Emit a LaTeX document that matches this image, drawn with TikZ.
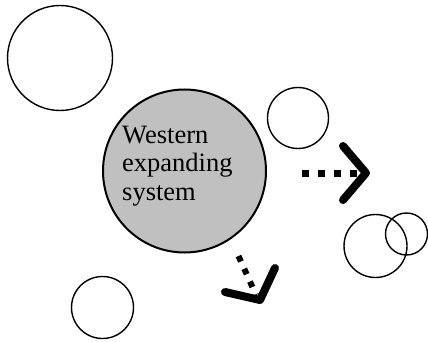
\documentclass[tikz,border=0pt]{standalone}
\usepackage{fontspec}
\setmainfont{Liberation Serif}
\begin{document}
\begin{tikzpicture}[
    x=1pt, y=-1pt,
    ring/.style={circle, draw=black, line width=1.4pt, inner sep=0pt},
    chevron/.style={line width=8pt, line cap=round, line join=round},
    dots/.style={line width=7pt, dash pattern=on 7pt off 9pt}
]
    \useasboundingbox (0,0) rectangle (428,342);

    % Circles
    \node[ring, minimum size=105pt] (topleft) at (60,58) {};
    \node[ring, minimum size=61pt] (topright) at (298,118) {};
    \node[ring, minimum size=63pt] (rightbig) at (375.5,246) {};
    \node[ring, minimum size=42pt] (rightsmall) at (406.5,234) {};
    \node[ring, minimum size=62pt] (bottomleft) at (102.5,307.5) {};

    % Main system
    \node[ring, fill={rgb,255:red,192;green,192;blue,192}, line width=2pt, minimum size=163pt] (west) at (184.5,171) {};
    \node[anchor=base west, align=left, inner sep=0pt, font=\fontsize{26.5}{28.5}\selectfont] (westtext) at (122,200) {Western\\expanding\\system};

    % Expansion to the east
    \coordinate (eastfrom) at (302,173);
    \coordinate (eastto) at (358,173);
    \draw[dots] (eastfrom) -- (eastto);
    \draw[chevron] (343,146) -- (366,173) -- (343,200);

    % Expansion to the south
    \coordinate (southfrom) at (238.5,256);
    \coordinate (southto) at (256,295);
    \draw[dots, line width=6pt, dash pattern=on 6pt off 8pt] (southfrom) -- (southto);
    \draw[chevron] (225,292) -- (260,300) -- (275,268);
\end{tikzpicture}
\end{document}
